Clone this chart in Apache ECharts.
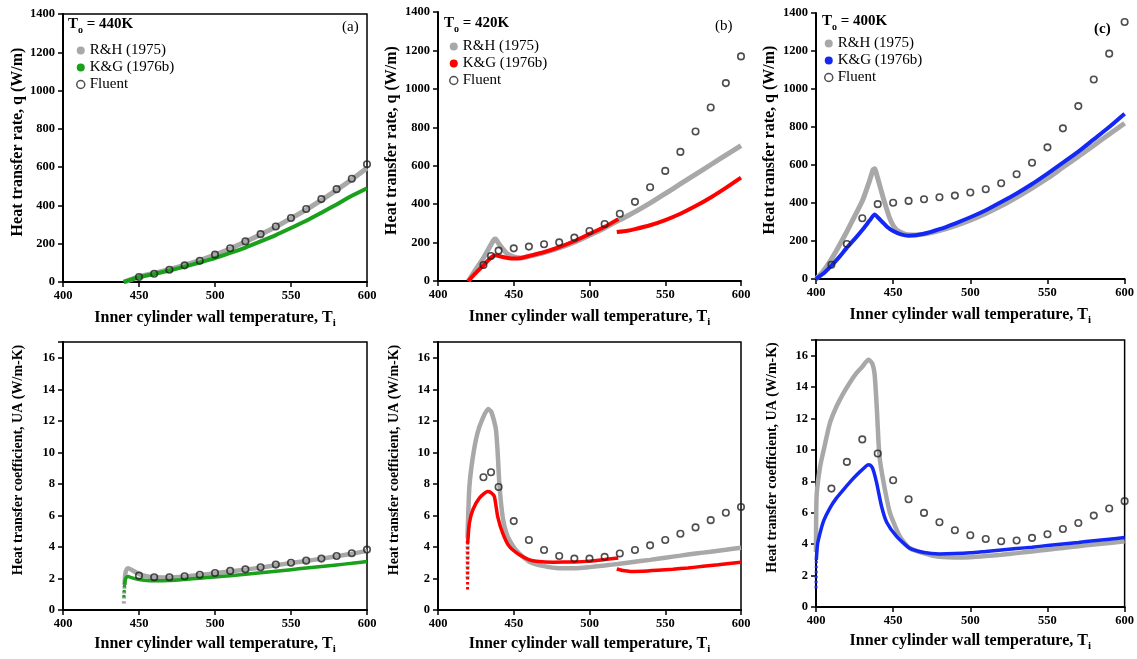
<!DOCTYPE html>
<html>
<head>
<meta charset="utf-8">
<script src="https://cdn.jsdelivr.net/npm/echarts@6/dist/echarts.min.js"></script>
<style>
  html, body { margin: 0; background: #fff; }
  #chart { width: 1137px; height: 659px; }
</style>
</head>
<body>
<div id="chart"></div>
<script>
// ---- data: [T_i, value] ----
// (a) q, To = 440K
const rhA = [[440,0],[445,14],[450,28],[460,46],[470,66],[480,88],[490,113],[500,142],[510,174],[520,210],[530,248],[540,288],[550,332],[560,378],[570,428],[580,480],[590,535],[600,595]];
const kgA = [[440,0],[445,13],[450,25],[460,42],[470,60],[480,80],[490,102],[500,125],[510,152],[520,180],[530,212],[540,245],[550,282],[560,320],[570,362],[580,405],[590,450],[600,490]];
const flAx = [450,460,470,480,490,500,510,520,530,540,550,560,570,580,590,600];
const flAy = [26,43,64,87,111,143,176,212,250,290,334,381,433,485,539,615];

// (b) q, To = 420K
const rhB = [[420,0],[425,60],[430,120],[435,190],[437,215],[438,218],[440,195],[443,165],[446,140],[450,126],[455,120],[460,128],[470,148],[480,172],[490,202],[500,238],[510,276],[520,318],[530,360],[540,405],[550,455],[560,505],[570,555],[580,605],[590,655],[600,705]];
const kgB1 = [[420,0],[425,42],[430,82],[435,122],[437,133],[439,132],[442,126],[446,120],[450,117],[455,120],[460,130],[470,150],[480,176],[490,208],[500,245],[510,282],[519,322]];
const kgB2 = [[518,255],[525,262],[530,270],[540,290],[550,317],[560,350],[570,390],[580,435],[590,485],[600,538]];
const flBx = [430,435,440,450,460,470,480,490,500,510,520,530,540,550,560,570,580,590,600];
const flBy = [83,130,158,170,179,191,201,226,260,297,350,412,488,573,672,778,903,1030,1169];

// (c) q, To = 400K
const rhC = [[400,0],[405,45],[410,105],[415,175],[420,250],[425,330],[430,410],[434,500],[437,575],[438,580],[440,530],[444,415],[448,315],[452,260],[458,235],[465,232],[470,236],[480,255],[490,280],[500,310],[510,345],[520,385],[530,430],[540,478],[550,530],[560,588],[570,645],[580,703],[590,762],[600,820]];
const kgC = [[400,0],[405,30],[410,70],[415,115],[420,165],[425,210],[430,258],[435,310],[438,340],[440,325],[443,300],[446,275],[450,252],[455,235],[460,228],[470,238],[480,262],[490,292],[500,325],[510,362],[520,405],[530,450],[540,500],[550,555],[560,612],[570,670],[580,735],[590,800],[600,870]];
const flCx = [410,420,430,440,450,460,470,480,490,500,510,520,530,540,550,560,570,580,590,600];
const flCy = [75,184,320,394,401,411,420,430,439,455,472,504,551,612,693,793,910,1050,1186,1353];

// (d) UA, To = 440K
const rhD = [[440,0.4],[440.5,1.6],[441,2.3],[442,2.6],[443,2.65],[445,2.55],[450,2.28],[455,2.14],[460,2.07],[470,2.06],[480,2.12],[490,2.22],[500,2.33],[510,2.45],[520,2.56],[530,2.69],[540,2.84],[550,2.98],[560,3.11],[570,3.25],[580,3.41],[590,3.57],[600,3.75]];
const kgD = [[440,0.8],[440.5,1.6],[441,1.95],[442,2.1],[443,2.12],[445,2.05],[450,1.93],[455,1.87],[460,1.85],[470,1.87],[480,1.94],[490,2.02],[500,2.1],[510,2.18],[520,2.27],[530,2.36],[540,2.46],[550,2.56],[560,2.66],[570,2.76],[580,2.86],[590,2.96],[600,3.07]];
const flDx = [450,460,470,480,490,500,510,520,530,540,550,560,570,580,590,600];
const flDy = [2.18,2.08,2.08,2.14,2.24,2.35,2.48,2.58,2.71,2.88,3.0,3.13,3.26,3.43,3.6,3.83];

// (e) UA, To = 420K
const rhE = [[419.5,2.0],[419.5,4.6],[420.7,7.8],[423,9.7],[426,11.2],[429.5,12.15],[433,12.75],[435,12.6],[437,12.0],[438.3,11.4],[439.5,9.8],[440.5,8.0],[442.7,5.9],[446,4.65],[451.5,3.8],[460,3.08],[470,2.78],[480,2.65],[490,2.65],[500,2.72],[510,2.82],[520,2.94],[530,3.06],[540,3.18],[550,3.32],[560,3.45],[570,3.58],[580,3.7],[590,3.82],[600,3.95]];
const kgE1 = [[419.5,1.3],[419.6,4.25],[420.7,5.5],[423,6.36],[427.3,7.1],[432.8,7.52],[435,7.45],[437.2,7.2],[439.4,5.93],[442.7,4.88],[447,4.04],[453.7,3.5],[460,3.2],[465,3.09],[476,3.03],[490,3.05],[500,3.1],[510,3.2],[519,3.3]];
const kgE2 = [[518,2.6],[522,2.5],[527,2.45],[535,2.46],[545,2.52],[555,2.59],[565,2.67],[575,2.77],[585,2.87],[600,3.03]];
const flEx = [430,435,440,450,460,470,480,490,500,510,520,530,540,550,560,570,580,590,600];
const flEy = [8.42,8.74,7.8,5.64,4.44,3.81,3.43,3.26,3.26,3.37,3.58,3.81,4.1,4.44,4.84,5.24,5.7,6.17,6.53];

// (f) UA, To = 400K
const rhF = [[400,3.5],[400.4,7.1],[402.6,8.9],[405,10.0],[409,11.7],[413,12.7],[417.7,13.6],[422,14.3],[426.3,14.9],[430,15.3],[434,15.75],[436.5,15.5],[438,14.8],[439.5,12.5],[440.5,10.5],[441.5,9.3],[444.7,7.46],[448,5.97],[454.4,4.48],[460.8,3.74],[473.8,3.31],[480,3.2],[490,3.15],[500,3.17],[510,3.24],[520,3.33],[530,3.43],[540,3.54],[550,3.65],[560,3.76],[570,3.87],[580,3.98],[590,4.08],[600,4.18]];
const kgF = [[400,1.2],[400.2,3.0],[401,4.0],[402.6,4.7],[405,5.5],[409,6.3],[413,6.9],[417.7,7.46],[422,7.95],[426.3,8.4],[430,8.75],[434,9.05],[436,8.95],[437.5,8.6],[439.3,7.9],[442.5,6.4],[445.8,5.4],[452.2,4.5],[460.8,3.74],[470,3.47],[480,3.38],[490,3.4],[500,3.45],[510,3.54],[520,3.63],[530,3.72],[540,3.81],[550,3.91],[560,4.01],[570,4.11],[580,4.22],[590,4.32],[600,4.42]];
const flFx = [410,420,430,440,450,460,470,480,490,500,510,520,530,540,550,560,570,580,590,600];
const flFy = [7.54,9.24,10.67,9.77,8.07,6.86,5.99,5.4,4.89,4.57,4.33,4.19,4.23,4.4,4.63,4.97,5.35,5.82,6.27,6.74];

const xTicks = { min: 400, max: 600, interval: 50 };
const qTicks = { min: 0, max: 1400, interval: 200 };
const uaTicks = { min: 0, max: 17, interval: 2 };

const FONT = 'Liberation Serif';
const GRAY = '#a8a8a8';
const GREEN = '#1aa01a';
const RED = '#ff0000';
const BLUE = '#1428f5';

// dotted: how many leading segments of the curve are drawn as dots
const panels = [
  { grid: { left: 63, top: 14, width: 304, height: 268 }, frame: true, y: qTicks, top: true, rh: rhA, kg: [kgA], fx: flAx, fy: flAy, color: GREEN, nameShift: 12, yGap: 37, dotRh: 0, dotKg: 0 },
  { grid: { left: 438, top: 12, width: 303, height: 269 }, frame: false, y: qTicks, top: true, rh: rhB, kg: [kgB1, kgB2], fx: flBx, fy: flBy, color: RED, nameShift: 12, yGap: 38, dotRh: 0, dotKg: 0 },
  { grid: { left: 816, top: 13, width: 309, height: 266 }, frame: false, y: qTicks, top: true, rh: rhC, kg: [kgC], fx: flCx, fy: flCy, color: BLUE, nameShift: 12, yGap: 38, dotRh: 0, dotKg: 0 },
  { grid: { left: 63, top: 342, width: 304, height: 268 }, frame: true, y: uaTicks, top: false, rh: rhD, kg: [kgD], fx: flDx, fy: flDy, color: GREEN, nameShift: 32, yGap: 38, dotRh: 1, dotKg: 1 },
  { grid: { left: 438, top: 342, width: 303, height: 268 }, frame: true, y: uaTicks, top: false, rh: rhE, kg: [kgE1, kgE2], fx: flEx, fy: flEy, color: RED, nameShift: 32, yGap: 37, dotRh: 1, dotKg: 1 },
  { grid: { left: 816, top: 340, width: 309, height: 267 }, frame: true, y: uaTicks, top: false, rh: rhF, kg: [kgF], fx: flFx, fy: flFy, color: BLUE, nameShift: 32, yGap: 37, dotRh: 0, dotKg: 1 }
];

const axisLine = { lineStyle: { color: '#000', width: 2 } };
const axisTick = { inside: false, length: 5, lineStyle: { color: '#000', width: 1.5 } };
const tickLabel = { fontFamily: FONT, fontWeight: 'bold', fontSize: 12.5, color: '#000' };

const grids = [], xAxes = [], yAxes = [], series = [];

function addCurve(i, name, data, color, width, dots, z) {
  const base = { type: 'line', name, xAxisIndex: i, yAxisIndex: i, symbol: 'none', itemStyle: { color }, z };
  if (dots > 0) {
    series.push(Object.assign({}, base, {
      data: data.slice(0, dots + 1),
      lineStyle: { color, width: width - 0.5, type: [2.5, 2.5] }
    }));
  }
  series.push(Object.assign({}, base, {
    data: data.slice(dots), smooth: 0.2,
    lineStyle: { color, width }
  }));
}

panels.forEach((p, i) => {
  grids.push(Object.assign({
    show: p.frame, borderColor: '#000', borderWidth: 1.5, backgroundColor: 'transparent'
  }, p.grid));
  xAxes.push({
    type: 'value', gridIndex: i, min: xTicks.min, max: xTicks.max, interval: xTicks.interval,
    name: '{n|Inner cylinder wall temperature, T}{s|i}',
    nameLocation: 'middle', nameGap: p.top ? 29 : 27,
    nameTextStyle: {
      rich: {
        n: { fontFamily: FONT, fontWeight: 'bold', fontSize: 16, color: '#000', lineHeight: 18, padding: [0, 0, 3, 0], verticalAlign: 'bottom' },
        s: { fontFamily: FONT, fontWeight: 'bold', fontSize: 11, color: '#000', lineHeight: 11, verticalAlign: 'bottom' }
      }
    },
    axisLine, axisTick,
    axisLabel: Object.assign({ margin: 7 }, tickLabel),
    splitLine: { show: false }
  });
  yAxes.push({
    type: 'value', gridIndex: i, min: p.y.min, max: p.y.max, interval: p.y.interval,
    name: p.top ? 'Heat transfer rate, q (W/m)' : 'Heat transfer coefficient, UA (W/m-K)',
    nameLocation: 'middle', nameGap: p.yGap,
    nameTextStyle: { fontFamily: FONT, fontWeight: 'bold', fontSize: p.top ? 16 : 14, color: '#000', padding: [0, 0, 0, p.nameShift] },
    axisLine, axisTick,
    axisLabel: Object.assign({ margin: 8, formatter: v => (v > 16 && v < 100) ? '' : String(v) }, tickLabel),
    splitLine: { show: false }
  });
  addCurve(i, 'R&H (1975)', p.rh, GRAY, p.top ? 5 : 4.5, p.dotRh, 2);
  p.kg.forEach((seg, k) => addCurve(i, 'K&G (1976b)', seg, p.color, p.top ? 4 : 3.5, k === 0 ? p.dotKg : 0, 3));
  series.push({
    type: 'scatter', name: 'Fluent', xAxisIndex: i, yAxisIndex: i,
    data: p.fx.map((x, j) => [x, p.fy[j]]),
    symbol: 'circle', symbolSize: 6.5, clip: false,
    itemStyle: { color: 'rgba(255,255,255,0)', borderColor: '#222', borderWidth: 1.6 }, z: 4
  });
});

const headRich = {
  b: { fontFamily: FONT, fontWeight: 'bold', fontSize: 15, color: '#000', lineHeight: 18, padding: [0, 0, 3, 0], verticalAlign: 'bottom' },
  s: { fontFamily: FONT, fontWeight: 'bold', fontSize: 10, color: '#000', lineHeight: 10, verticalAlign: 'bottom' }
};
const heads = [
  { to: '440K', left: 68, top: 17, tag: '(a)', tagLeft: 342, tagTop: 20, tagBold: false },
  { to: '420K', left: 444, top: 16, tag: '(b)', tagLeft: 715, tagTop: 19, tagBold: false },
  { to: '400K', left: 822, top: 14, tag: '(c)', tagLeft: 1094, tagTop: 22, tagBold: true }
];
const titles = [], legends = [];
heads.forEach((h, i) => {
  titles.push({ text: '{b|T}{s|o}{b| = ' + h.to + '}', left: h.left, top: h.top, padding: 0, textStyle: { rich: headRich } });
  titles.push({ text: h.tag, left: h.tagLeft, top: h.tagTop, padding: 0,
    textStyle: { fontFamily: FONT, fontSize: 15, fontWeight: h.tagBold ? 'bold' : 'normal', color: '#000' } });
  legends.push({
    orient: 'vertical', left: [76, 449, 824][i], top: [42, 38, 35][i], padding: 0,
    itemWidth: 8, itemHeight: 8, itemGap: 0, selectedMode: false,
    textStyle: { fontFamily: FONT, fontSize: 15, color: '#000', lineHeight: 17 },
    data: [
      { name: 'R&H (1975)', icon: 'circle', itemStyle: { color: GRAY } },
      { name: 'K&G (1976b)', icon: 'circle', itemStyle: { color: panels[i].color } },
      { name: 'Fluent', icon: 'circle', itemStyle: { color: '#fff', borderColor: '#222', borderWidth: 1.5 } }
    ]
  });
});

const chart = echarts.init(document.getElementById('chart'));
chart.setOption({
  backgroundColor: '#fff',
  animation: false,
  title: titles,
  legend: legends,
  grid: grids,
  xAxis: xAxes,
  yAxis: yAxes,
  series: series
});
</script>
</body>
</html>
